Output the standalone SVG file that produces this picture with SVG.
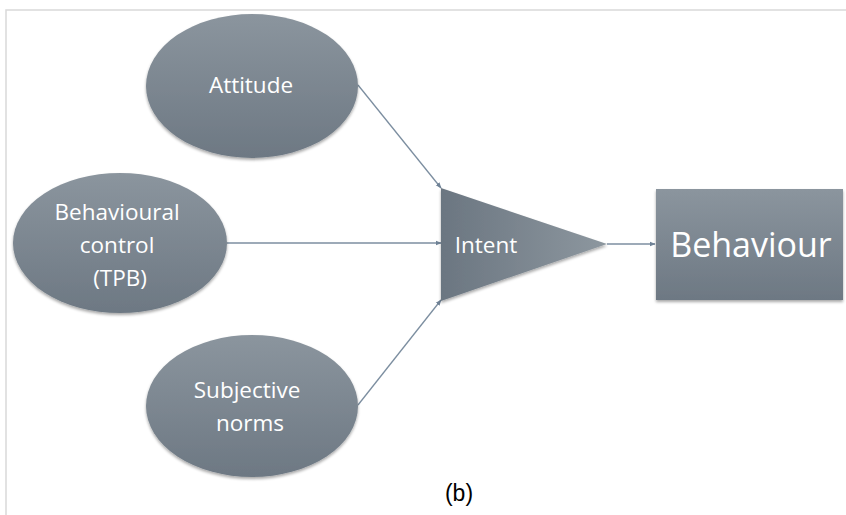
<svg xmlns="http://www.w3.org/2000/svg" width="846" height="515" viewBox="0 0 846 515">
  <style>
    .lbl { font-family: "Open Sans", Lato, "Liberation Sans", sans-serif; fill: #ffffff; text-anchor: middle; }
    .conn { stroke: #7c8ea0; stroke-width: 1.3; fill: none; marker-end: url(#arrow); }
    .shape { fill: url(#grad); filter: url(#shadow); }
  </style>
  <defs>
    <linearGradient id="grad" x1="0" y1="0" x2="0" y2="1">
      <stop offset="0" stop-color="#8b959e"/>
      <stop offset="1" stop-color="#6d7883"/>
    </linearGradient>
    <linearGradient id="gradTri" x1="0" y1="0" x2="1" y2="0">
      <stop offset="0" stop-color="#6b7681"/>
      <stop offset="1" stop-color="#8d979f"/>
    </linearGradient>
    <filter id="shadow" x="-10%" y="-10%" width="120%" height="125%">
      <feGaussianBlur in="SourceAlpha" stdDeviation="1.5"/>
      <feOffset dx="0" dy="2" result="b"/>
      <feComponentTransfer><feFuncA type="linear" slope="0.35"/></feComponentTransfer>
      <feMerge><feMergeNode/><feMergeNode in="SourceGraphic"/></feMerge>
    </filter>
    <marker id="arrow" viewBox="0 0 10 10" refX="9" refY="5" markerWidth="6" markerHeight="6" orient="auto" markerUnits="userSpaceOnUse">
      <path d="M0,1 L10,5 L0,9 z" fill="#6f8296"/>
    </marker>
  </defs>

  <rect width="846" height="515" fill="#ffffff"/>
  <!-- frame -->
  <path d="M6,515 L6,10 L846,10" fill="none" stroke="#d9d9d9" stroke-width="1.5"/>

  <g id="connectors">
    <line class="conn" x1="358" y1="85" x2="441" y2="188"/>
    <line class="conn" x1="227" y1="243" x2="441" y2="243"/>
    <line class="conn" x1="358" y1="405" x2="441" y2="300"/>
    <line class="conn" x1="607" y1="244" x2="655" y2="244"/>
  </g>

  <g id="attitude">
    <ellipse class="shape" cx="252" cy="86" rx="106" ry="72"/>
    <text class="lbl" x="251" y="93" font-size="22.5">Attitude</text>
  </g>

  <g id="behavioural-control">
    <ellipse class="shape" cx="120" cy="243" rx="107" ry="70"/>
    <text class="lbl" font-size="22.5">
      <tspan x="120" y="220">Behavioural</tspan>
      <tspan x="120" y="253">control</tspan>
      <tspan x="120" y="286">(TPB)</tspan>
    </text>
  </g>

  <g id="subjective-norms">
    <ellipse class="shape" cx="252" cy="406" rx="106" ry="71"/>
    <text class="lbl" font-size="22.5">
      <tspan x="250" y="398">Subjective</tspan>
      <tspan x="250" y="431">norms</tspan>
    </text>
  </g>

  <g id="intent">
    <polygon points="441,188 607,244 441,301" fill="url(#gradTri)" filter="url(#shadow)"/>
    <text class="lbl" x="486" y="253" font-size="22.5">Intent</text>
  </g>

  <g id="behaviour">
    <rect class="shape" x="656" y="189" width="187" height="111"/>
    <text class="lbl" x="751" y="257" font-size="34">Behaviour</text>
  </g>

  <text x="459" y="501" font-family="'Liberation Sans', Arial, sans-serif" font-size="23" fill="#000000" text-anchor="middle">(b)</text>
</svg>
